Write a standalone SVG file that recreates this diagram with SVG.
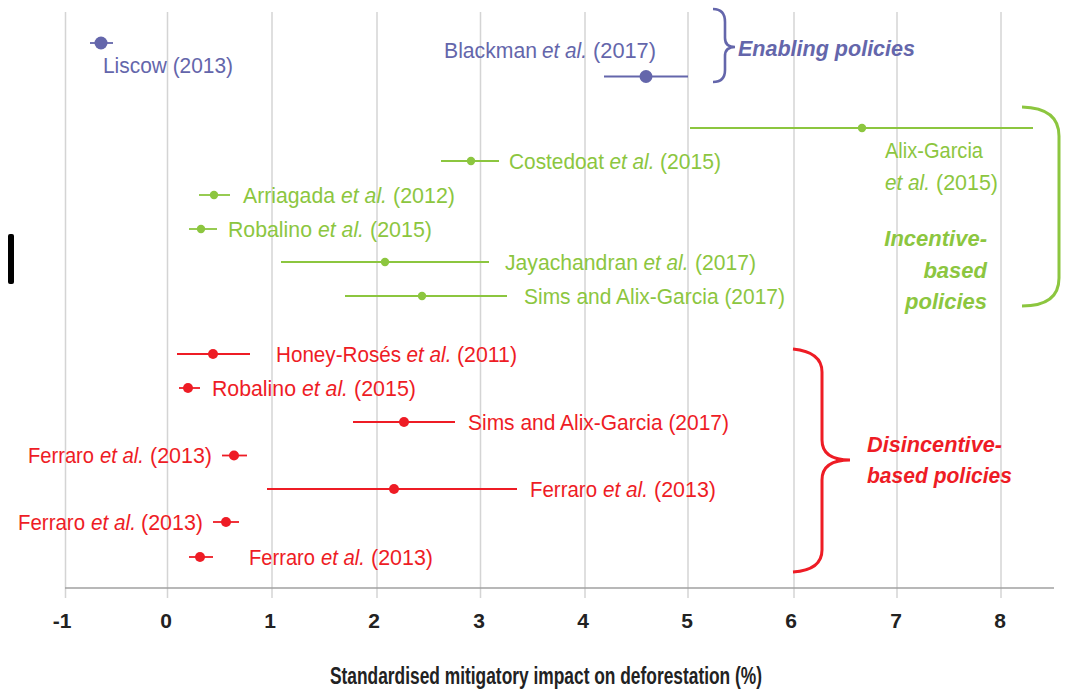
<svg xmlns="http://www.w3.org/2000/svg" width="1067" height="691" viewBox="0 0 1067 691">
<style>
.grid{stroke:#d4d4d4;stroke-width:1.5;fill:none}
.axis{stroke:#a0a0a0;stroke-width:1.5;fill:none}
.tick{font-family:"Liberation Sans",Arial,sans-serif;font-size:21px;font-weight:bold;fill:#222;text-anchor:middle}
.title{font-family:"Liberation Sans",Arial,sans-serif;font-size:23px;font-weight:bold;fill:#222}
.lbl{font-family:"Liberation Sans",Arial,sans-serif;font-size:21.5px}
.it{font-style:italic}
.grp{font-family:"Liberation Sans",Arial,sans-serif;font-size:22px;font-weight:bold;font-style:italic}
.pu{fill:#6466ab}.gr{fill:#8cc63f}.rd{fill:#ee1c25}
.pul{stroke:#6466ab;stroke-width:1.8;fill:none}
.grl{stroke:#8cc63f;stroke-width:1.8;fill:none}
.rdl{stroke:#ee1c25;stroke-width:1.8;fill:none}
</style>
<rect width="1067" height="691" fill="#fff"/>
<g id="gridlines">
<line class="grid" x1="65.5" y1="12" x2="65.5" y2="598"/>
<line class="grid" x1="167.5" y1="12" x2="167.5" y2="598"/>
<line class="grid" x1="272" y1="12" x2="272" y2="598"/>
<line class="grid" x1="377" y1="12" x2="377" y2="598"/>
<line class="grid" x1="480.5" y1="12" x2="480.5" y2="598"/>
<line class="grid" x1="585" y1="12" x2="585" y2="598"/>
<line class="grid" x1="688" y1="12" x2="688" y2="598"/>
<line class="grid" x1="794" y1="12" x2="794" y2="598"/>
<line class="grid" x1="897" y1="12" x2="897" y2="598"/>
<line class="grid" x1="1001" y1="12" x2="1001" y2="598"/>
</g>
<g id="axis">
<line class="axis" x1="65" y1="588" x2="1054" y2="588"/>
<text class="tick" x="62" y="628">-1</text>
<text class="tick" x="166" y="628">0</text>
<text class="tick" x="270" y="628">1</text>
<text class="tick" x="374" y="628">2</text>
<text class="tick" x="479" y="628">3</text>
<text class="tick" x="583" y="628">4</text>
<text class="tick" x="687" y="628">5</text>
<text class="tick" x="791" y="628">6</text>
<text class="tick" x="896" y="628">7</text>
<text class="tick" x="1000" y="628">8</text>
<text class="title" x="330" y="684" textLength="432" lengthAdjust="spacingAndGlyphs">Standardised mitigatory impact on deforestation (%)</text>
</g>
<rect id="marker-bar" x="8" y="234" width="6" height="50" rx="2" fill="#000"/>
<g id="connectors">
<line class="pul" x1="90" y1="43" x2="113" y2="43"/>
<line class="pul" x1="604" y1="76.5" x2="688" y2="76.5"/>
<line class="grl" x1="690" y1="128" x2="1033" y2="128"/>
<line class="grl" x1="441" y1="161" x2="499" y2="161"/>
<line class="grl" x1="199" y1="195" x2="230" y2="195"/>
<line class="grl" x1="189" y1="229" x2="217" y2="229"/>
<line class="grl" x1="281" y1="262" x2="489" y2="262"/>
<line class="grl" x1="345" y1="296" x2="507" y2="296"/>
<line class="rdl" x1="177" y1="354" x2="250" y2="354"/>
<line class="rdl" x1="179" y1="388" x2="200" y2="388"/>
<line class="rdl" x1="353" y1="422" x2="455" y2="422"/>
<line class="rdl" x1="222" y1="455.5" x2="247" y2="455.5"/>
<line class="rdl" x1="267" y1="489" x2="517" y2="489"/>
<line class="rdl" x1="213" y1="522" x2="239" y2="522"/>
<line class="rdl" x1="189" y1="557" x2="213" y2="557"/>
</g>
<g id="enabling">
<path class="pul" style="stroke-width:2.6" d="M713,9 Q725,9 725,22 V38 Q725,47 735,47 Q725,47 725,56 V70 Q725,82 713,82"/>
<text class="grp pu" x="738" y="56" textLength="177" lengthAdjust="spacingAndGlyphs">Enabling policies</text>
</g>
<g id="liscow"><circle class="pu" cx="101" cy="43" r="6.5"/><text class="lbl pu" x="103" y="73" textLength="130" lengthAdjust="spacingAndGlyphs">Liscow (2013)</text></g>
<g id="blackman"><circle class="pu" cx="646" cy="76.5" r="6.5"/>
<text class="lbl pu" x="444" y="58" textLength="93" lengthAdjust="spacingAndGlyphs">Blackman</text>
<text class="lbl pu it" x="542" y="58" textLength="45" lengthAdjust="spacingAndGlyphs">et al.</text>
<text class="lbl pu" x="593" y="58" textLength="63" lengthAdjust="spacingAndGlyphs">(2017)</text></g>
<g id="incentive">
<path class="grl" style="stroke-width:3" d="M1022,107 Q1059,108 1059,136 V278 Q1059,306 1022,306"/>
<text class="grp gr" x="987" y="246" text-anchor="end">Incentive-</text>
<text class="grp gr" x="987" y="278" text-anchor="end">based</text>
<text class="grp gr" x="987" y="309" text-anchor="end">policies</text>
</g>
<g id="alix"><circle class="gr" cx="862" cy="128" r="4.2"/>
<text class="lbl gr" x="885" y="158" textLength="98" lengthAdjust="spacingAndGlyphs">Alix-Garcia</text>
<text class="lbl gr it" x="885" y="190" textLength="45" lengthAdjust="spacingAndGlyphs">et al.</text>
<text class="lbl gr" x="936" y="190" textLength="62" lengthAdjust="spacingAndGlyphs">(2015)</text></g>
<g id="costedoat"><circle class="gr" cx="471" cy="161" r="4.2"/>
<text class="lbl gr" x="509" y="169" textLength="95" lengthAdjust="spacingAndGlyphs">Costedoat</text>
<text class="lbl gr it" x="609.5" y="169" textLength="45" lengthAdjust="spacingAndGlyphs">et al.</text>
<text class="lbl gr" x="660" y="169" textLength="61" lengthAdjust="spacingAndGlyphs">(2015)</text></g>
<g id="arriagada"><circle class="gr" cx="214" cy="195" r="4.2"/>
<text class="lbl gr" x="243" y="203" textLength="92" lengthAdjust="spacingAndGlyphs">Arriagada</text>
<text class="lbl gr it" x="341" y="203" textLength="46" lengthAdjust="spacingAndGlyphs">et al.</text>
<text class="lbl gr" x="393" y="203" textLength="62" lengthAdjust="spacingAndGlyphs">(2012)</text></g>
<g id="robalino-g"><circle class="gr" cx="201" cy="229" r="4.2"/>
<text class="lbl gr" x="228" y="237" textLength="84" lengthAdjust="spacingAndGlyphs">Robalino</text>
<text class="lbl gr it" x="318" y="237" textLength="46" lengthAdjust="spacingAndGlyphs">et al.</text>
<text class="lbl gr" x="370" y="237" textLength="62" lengthAdjust="spacingAndGlyphs">(2015)</text></g>
<g id="jayachandran"><circle class="gr" cx="385" cy="262" r="4.2"/>
<text class="lbl gr" x="505" y="270" textLength="133" lengthAdjust="spacingAndGlyphs">Jayachandran</text>
<text class="lbl gr it" x="643.5" y="270" textLength="45" lengthAdjust="spacingAndGlyphs">et al.</text>
<text class="lbl gr" x="695" y="270" textLength="61" lengthAdjust="spacingAndGlyphs">(2017)</text></g>
<g id="sims-g"><circle class="gr" cx="422" cy="296" r="4.2"/><text class="lbl gr" x="524" y="304" textLength="261" lengthAdjust="spacingAndGlyphs">Sims and Alix-Garcia (2017)</text></g>
<g id="disincentive">
<path class="rdl" style="stroke-width:3" d="M793,349 Q822,352 822,372 V440 Q822,460 850,460 Q822,460 822,480 V550 Q822,570 793,572"/>
<text class="grp rd" x="867" y="452" textLength="135" lengthAdjust="spacingAndGlyphs">Disincentive-</text>
<text class="grp rd" x="867" y="483" textLength="145" lengthAdjust="spacingAndGlyphs">based policies</text>
</g>
<g id="honey"><circle class="rd" cx="213" cy="354" r="5"/>
<text class="lbl rd" x="276" y="362" textLength="125" lengthAdjust="spacingAndGlyphs">Honey-Rosés</text>
<text class="lbl rd it" x="406.5" y="362" textLength="45" lengthAdjust="spacingAndGlyphs">et al.</text>
<text class="lbl rd" x="457" y="362" textLength="60" lengthAdjust="spacingAndGlyphs">(2011)</text></g>
<g id="robalino-r"><circle class="rd" cx="188" cy="388" r="5"/>
<text class="lbl rd" x="212" y="396" textLength="84" lengthAdjust="spacingAndGlyphs">Robalino</text>
<text class="lbl rd it" x="302" y="396" textLength="46" lengthAdjust="spacingAndGlyphs">et al.</text>
<text class="lbl rd" x="354" y="396" textLength="62" lengthAdjust="spacingAndGlyphs">(2015)</text></g>
<g id="sims-r"><circle class="rd" cx="404" cy="422" r="5"/><text class="lbl rd" x="468" y="430" textLength="261" lengthAdjust="spacingAndGlyphs">Sims and Alix-Garcia (2017)</text></g>
<g id="ferraro-1"><circle class="rd" cx="234" cy="455.5" r="5"/>
<text class="lbl rd" x="28" y="463" textLength="66" lengthAdjust="spacingAndGlyphs">Ferraro</text>
<text class="lbl rd it" x="100" y="463" textLength="44" lengthAdjust="spacingAndGlyphs">et al.</text>
<text class="lbl rd" x="150" y="463" textLength="62" lengthAdjust="spacingAndGlyphs">(2013)</text></g>
<g id="ferraro-2"><circle class="rd" cx="394" cy="489" r="5"/>
<text class="lbl rd" x="530" y="497" textLength="67" lengthAdjust="spacingAndGlyphs">Ferraro</text>
<text class="lbl rd it" x="603" y="497" textLength="45" lengthAdjust="spacingAndGlyphs">et al.</text>
<text class="lbl rd" x="654" y="497" textLength="62" lengthAdjust="spacingAndGlyphs">(2013)</text></g>
<g id="ferraro-3"><circle class="rd" cx="226" cy="522" r="5"/>
<text class="lbl rd" x="18" y="530" textLength="67" lengthAdjust="spacingAndGlyphs">Ferraro</text>
<text class="lbl rd it" x="91" y="530" textLength="45" lengthAdjust="spacingAndGlyphs">et al.</text>
<text class="lbl rd" x="141" y="530" textLength="62" lengthAdjust="spacingAndGlyphs">(2013)</text></g>
<g id="ferraro-4"><circle class="rd" cx="200" cy="557" r="5"/>
<text class="lbl rd" x="249" y="565" textLength="66" lengthAdjust="spacingAndGlyphs">Ferraro</text>
<text class="lbl rd it" x="321" y="565" textLength="44" lengthAdjust="spacingAndGlyphs">et al.</text>
<text class="lbl rd" x="371" y="565" textLength="62" lengthAdjust="spacingAndGlyphs">(2013)</text></g>
</svg>
